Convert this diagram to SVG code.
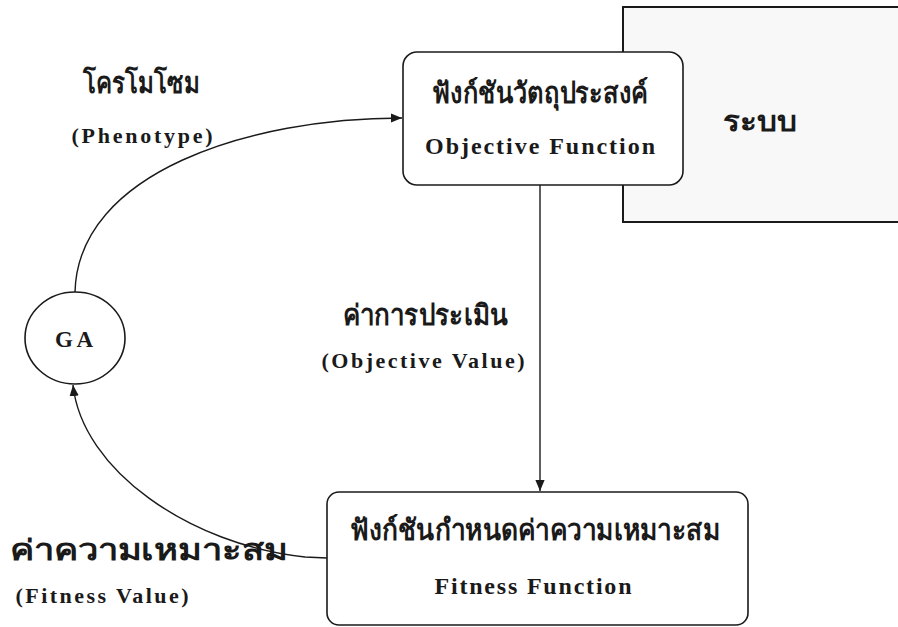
<svg xmlns="http://www.w3.org/2000/svg" width="898" height="627" viewBox="0 0 898 627">
  <defs>
    <marker id="arrow" viewBox="0 0 10 10" refX="10" refY="5" markerWidth="11" markerHeight="11" markerUnits="userSpaceOnUse" orient="auto">
      <path d="M0,0.8 L10,5 L0,9.2 Z" fill="#1a1a1a"/>
    </marker>
    <style>
      .box { fill: #ffffff; stroke: #1a1a1a; stroke-width: 1.6; }
      .sys { fill: #f8f8f8; stroke: #1a1a1a; stroke-width: 2; }
      .conn { fill: none; stroke: #1a1a1a; stroke-width: 1.4; }
      .th { font-family: "Noto Sans", "DejaVu Sans", sans-serif; font-weight: bold; fill: #1a1a1a; text-anchor: middle; }
      .en { font-family: "Liberation Serif", "Times New Roman", serif; font-weight: bold; fill: #1a1a1a; text-anchor: middle; }
    </style>
  </defs>
  <rect width="898" height="627" fill="#ffffff"/>

  <g id="system">
    <rect class="sys" x="623" y="7" width="290" height="215"/>
    <text class="th" x="760" y="131" font-size="28" textLength="74" lengthAdjust="spacingAndGlyphs">ระบบ</text>
  </g>

  <g id="objective-function">
    <rect class="box" x="403" y="52" width="280" height="133" rx="14" ry="14"/>
    <text class="th" x="540" y="103" font-size="29" textLength="216" lengthAdjust="spacingAndGlyphs">ฟังก์ชันวัตถุประสงค์</text>
    <text class="en" x="540" y="154" font-size="24" textLength="230" lengthAdjust="spacing">Objective Function</text>
  </g>

  <g id="fitness-function">
    <rect class="box" x="327" y="492" width="421" height="133" rx="12" ry="12"/>
    <text class="th" x="535" y="540" font-size="29" textLength="370" lengthAdjust="spacingAndGlyphs">ฟังก์ชันกำหนดค่าความเหมาะสม</text>
    <text class="en" x="533" y="594" font-size="24" textLength="197" lengthAdjust="spacing">Fitness Function</text>
  </g>

  <g id="ga">
    <ellipse class="box" cx="75" cy="338" rx="50" ry="46"/>
    <text class="en" x="74" y="347" font-size="23" textLength="38" lengthAdjust="spacing">GA</text>
  </g>

  <g id="connectors">
    <path class="conn" d="M75,292 C78,172 250,118 402,118" marker-end="url(#arrow)"/>
    <path class="conn" d="M540,185 L540,491" marker-end="url(#arrow)"/>
    <path class="conn" d="M327,558 L305,557 C190,545 82,470 73,385" marker-end="url(#arrow)"/>
  </g>

  <g id="labels">
    <text class="th" x="141" y="93" font-size="29" textLength="117" lengthAdjust="spacingAndGlyphs">โครโมโซม</text>
    <text class="en" x="142" y="143" font-size="22" textLength="141" lengthAdjust="spacing">(Phenotype)</text>
    <text class="th" x="425" y="325" font-size="29" textLength="165" lengthAdjust="spacingAndGlyphs">ค่าการประเมิน</text>
    <text class="en" x="423" y="368" font-size="22" textLength="203" lengthAdjust="spacing">(Objective Value)</text>
    <text class="th" x="149" y="560" font-size="29" textLength="278" lengthAdjust="spacingAndGlyphs">ค่าความเหมาะสม</text>
    <text class="en" x="102" y="603" font-size="22" textLength="173" lengthAdjust="spacing">(Fitness Value)</text>
  </g>
</svg>
